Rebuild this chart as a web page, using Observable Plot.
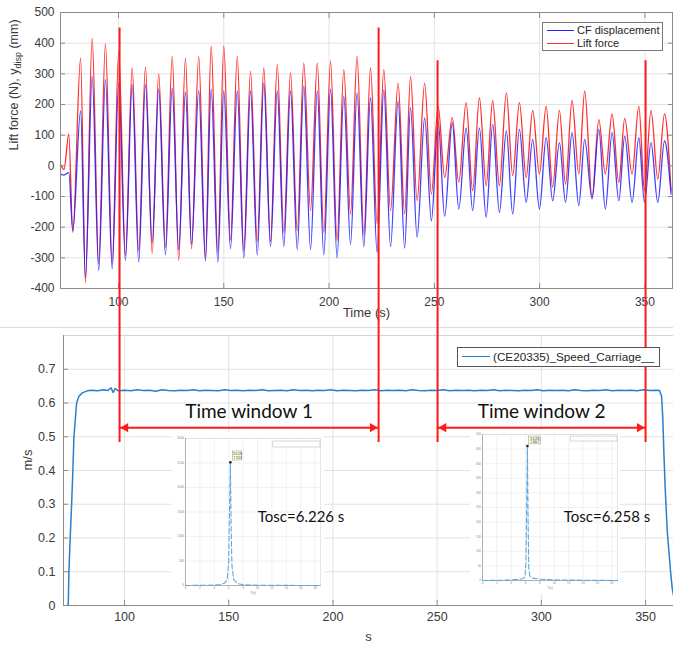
<!DOCTYPE html>
<html>
<head>
<meta charset="utf-8">
<script src="https://cdn.jsdelivr.net/npm/d3@7"></script>
<script src="https://cdn.jsdelivr.net/npm/@observablehq/plot@0.6"></script>
<style>
  html,body{margin:0;padding:0;background:#fff;}
  #wrap{position:relative;width:673px;height:646px;overflow:hidden;background:#fff;font-family:'Liberation Sans',Arial,sans-serif;}
  .legend{position:absolute;background:#fff;box-sizing:border-box;color:#262626;white-space:nowrap;}
  .legend .sw{position:absolute;height:0;}
  .legend .lb{position:absolute;}
  .sep{position:absolute;left:0;top:327px;width:673px;height:0;border-top:1px solid #dcdcdc;}
</style>
</head>
<body>
<div id="wrap"></div>
<script>
// ---------------- DATA ----------------
// Top panel: successive peaks / troughs (time in s)
const extremaTime = [72.5,74.1,76.4,78.3,82.0,84.3,87.5,90.6,93.8,97.0,100.1,103.3,106.5,109.6,112.8,116.0,119.1,122.3,125.5,128.6,131.8,134.7,138.1,141.3,144.0,147.2,150.0,153.2,156.4,159.5,162.7,165.9,169.0,172.2,175.4,178.5,181.7,184.9,188.0,191.2,194.4,197.5,200.7,203.8,207.0,210.2,213.3,216.5,219.7,222.8,226.0,229.2,232.8,235.9,238.7,241.8,245.4,248.6,251.8,254.9,258.5,261.6,265.1,268.2,271.4,274.6,277.7,280.9,284.2,287.2,290.4,293.6,296.7,299.9,303.1,306.2,309.4,312.3,315.4,318.6,321.4,324.9,328.1,331.2,334.4,337.6,340.4,343.9,347.1,349.8,352.9,356.1,359.3,362.4];
const liftForce = [5,-12,103,-217,351,-381,416,-318,398,-318,
  373,-292,319,-276,321,-285,300,-265,357,-308,
  351,-270,357,-300,390,-282,390,-243,357,-276,
  308,-247,319,-247,330,-217,303,-211,335,-146,
  335,-217,341,-243,314,-157,357,-225,319,-188,
  314,-146,270,-157,292,-114,270,-92,195,-38,
  157,-54,206,-81,222,-65,213,-65,238,-32,
  206,-38,181,-27,195,-70,181,-60,213,-27,
  244,-103,151,-27,169,-54,155,-27,195,-81,
  181,-43,169,-81];
const cfDisplacement = [-27,-30,-22,-212,179,-365,292,-341,281,-336,
  270,-308,265,-313,265,-250,250,-290,253,-273,
  240,-255,245,-310,250,-314,244,-270,244,-300,
  244,-290,270,-263,244,-263,244,-273,260,-273,
  244,-290,250,-300,227,-255,238,-263,222,-282,
  248,-263,211,-268,189,-233,156,-179,146,-165,
  141,-141,124,-146,124,-168,135,-152,114,-157,
  119,-119,86,-141,92,-114,76,-119,108,-130,
  86,-108,119,-141,108,-114,97,-119,92,-119,
  76,-119,81,-92];
const topSeriesNames = ["CF displacement", "Lift force"];
const topXTicks = [100,150,200,250,300,350];
const topYTicks = [-400,-300,-200,-100,0,100,200,300,400,500];
const topXLabel = "Time (s)";
const topYLabel = "Lift force (N), ydisp (mm)";

// Bottom panel: carriage speed
const speedTime = [72.5,73.0,73.3,73.9,74.6,75.2,75.7,77.0,78.1,79.7,82.1,
  84,87,90,92,93.5,94.5,95.5,97,
  100,103,106,109,112,115,118,121,124,127,130,133,136,139,142,145,148,151,154,157,
  160,163,166,169,172,175,178,181,184,187,190,193,196,199,202,205,208,211,214,217,
  220,223,226,229,232,235,238,241,244,247,250,253,256,259,262,265,268,271,274,277,
  280,283,286,289,292,295,298,301,304,307,310,313,316,319,322,325,328,331,334,337,
  340,343,346,349,352,355,
  356.7,357.7,358.3,358.8,359.4,360.4,362.0,362.8,363.4,364.5];
const speedValue = [0,0.005,0.1,0.2,0.3,0.4,0.5,0.6,0.62,0.63,0.636,
  0.638,0.636,0.639,0.637,0.645,0.631,0.643,0.636,
  0.638,0.636,0.639,0.637,0.638,0.635,0.639,0.637,0.636,0.638,
  0.637,0.639,0.636,0.638,0.637,0.636,0.639,0.637,0.638,0.636,
  0.638,0.637,0.639,0.636,0.637,0.638,0.636,0.639,0.637,0.638,
  0.636,0.638,0.637,0.639,0.636,0.638,0.637,0.636,0.638,0.637,
  0.639,0.636,0.638,0.637,0.638,0.636,0.639,0.637,0.636,0.638,
  0.637,0.639,0.636,0.638,0.637,0.638,0.636,0.638,0.637,0.639,
  0.636,0.638,0.637,0.636,0.638,0.637,0.639,0.636,0.638,0.637,
  0.638,0.636,0.639,0.637,0.636,0.638,0.637,0.639,0.636,0.638,
  0.637,0.638,0.636,0.639,0.637,0.638,
  0.637,0.62,0.55,0.45,0.35,0.22,0.1,0.05,0.03,0.01];
const speedName = "(CE20335)_Speed_Carriage__";
const botXTicks = [100,150,200,250,300,350];
const botYTicks = [0,0.1,0.2,0.3,0.4,0.5,0.6,0.7];
const botXLabel = "s";
const botYLabel = "m/s";

// Annotations (bottom-panel units)
const windowEdges = [97.6, 221.9, 250.2, 350.0];
const windowEdgeTop = [1.711, 1.711, 1.614, 1.614];
const windowEdgeBottom = 0.483;
const windowStart = [97.6, 250.2];
const windowEnd = [221.9, 350.0];
const windowNames = ["Time window 1", "Time window 2"];
const arrowLevel = 0.527;
const windowNameLevel = 0.574;
const oscNames = ["Tosc=6.226 s", "Tosc=6.258 s"];
const oscNameTime = [184.7, 331.5];
const oscNameLevel = 0.262;

// Insets: spectra vs period T(s)
const specXTicks = [0,2,4,6,8,10,12,14,16,18];
const spec1Period = [0,2,4,4.8,5.4,5.8,6.0,6.1,6.226,6.33,6.45,6.7,7.2,8,9,12,18.7];
const spec1Amp    = [0,3,8,20,45,120,500,1400,2513,1300,400,120,40,15,8,3,0];
const spec1YTicks = [0,500,1000,1500,2000,2500,3000];
const spec1Tip = ["X 6.226\nY 2513"];
const spec2Period = [0,3,4,5,5.6,5.9,6.05,6.15,6.258,6.35,6.45,6.6,7,8,10,14,18.8];
const spec2Amp    = [0,1,2,4,6,12,60,250,460.7,200,40,15,8,5,2,1,0];
const spec2YTicks = [0,50,100,150,200,250,300,350,400,450,500];
const spec2Tip = ["X 6.258\nY 460.7"];

// ---------------- STYLE ----------------
const font = "'Liberation Sans', Arial, Helvetica, sans-serif";
const tickColor = "#3a3a3a";
const frameColor = "#8c8c8c";
const gridColor = "#e2e2e2";
const liftColor = "#ff3030";
const dispColor = "#1f1fff";
const speedColor = "#2a7fcc";
const annoRed = "#ff1a1a";
const fmt = d => String(d);

const wrap = document.getElementById("wrap");

// ---------------- TOP PANEL ----------------
const lift = extremaTime.map((t, i) => ({t, v: liftForce[i]}));
const disp = extremaTime.map((t, i) => ({t, v: cfDisplacement[i]}));

const topPlot = Plot.plot({
  width: 673, height: 329,
  marginLeft: 60, marginRight: 1, marginTop: 12, marginBottom: 41,
  x: {domain: [72.46, 363.1]},
  y: {domain: [-400, 500]},
  style: {position: "absolute", left: "0px", top: "0px", overflow: "visible", background: "transparent", fontFamily: font, fontSize: "12px", color: tickColor},
  marks: [
    Plot.ruleX(topXTicks, {stroke: gridColor}),
    Plot.ruleY(topYTicks, {stroke: gridColor}),
    Plot.line(lift, {x: "t", y: "v", stroke: liftColor, strokeWidth: 1.3, curve: "monotone-x"}),
    Plot.line(disp, {x: "t", y: "v", stroke: dispColor, strokeWidth: 1.3, strokeOpacity: 0.85, curve: "monotone-x"}),
    Plot.frame({stroke: frameColor}),
    Plot.axisX(topXTicks, {anchor: "bottom", tickSize: 5, dy: -5, fill: "none", stroke: frameColor}),
    Plot.axisX(topXTicks, {anchor: "top", tickSize: 5, dy: 5, fill: "none", stroke: frameColor}),
    Plot.axisY(topYTicks, {anchor: "left", tickSize: 5, dx: 5, fill: "none", stroke: frameColor}),
    Plot.axisY(topYTicks, {anchor: "right", tickSize: 5, dx: -5, fill: "none", stroke: frameColor}),
    Plot.axisX(topXTicks, {anchor: "bottom", tickSize: 0, tickPadding: 9, tickFormat: fmt, label: null, fill: tickColor, fontSize: 12}),
    Plot.axisY(topYTicks, {anchor: "left", tickSize: 0, tickPadding: 6, tickFormat: fmt, label: null, fill: tickColor, fontSize: 12}),
    Plot.text([topXLabel], {frameAnchor: "bottom", dy: 28, fontSize: 13, fill: tickColor}),
    Plot.text([topYLabel], {frameAnchor: "left", dx: -47, rotate: -90, fontSize: 12.5, fill: tickColor})
  ]
});
wrap.appendChild(topPlot);
// subscript "disp"
d3.select(topPlot).selectAll("text").filter(function () { return this.textContent === topYLabel; }).each(function () {
  const t = d3.select(this);
  t.text(null);
  t.append("tspan").text("Lift force (N), y");
  t.append("tspan").attr("dy", 3).attr("font-size", "9px").text("disp");
  t.append("tspan").attr("dy", -3).text(" (mm)");
});

const sep = document.createElement("div");
sep.className = "sep";
wrap.appendChild(sep);

// ---------------- BOTTOM PANEL ----------------
const speed = speedTime.map((t, i) => ({t, v: speedValue[i]}));
const botDims = {width: 673, height: 316, marginLeft: 63, marginRight: 0, marginTop: 5, marginBottom: 41};
const botDomainX = [70.7, 363.4];
const botDomainY = [0, 0.8];

const botPlot = Plot.plot({
  ...botDims, x: {domain: botDomainX}, y: {domain: botDomainY},
  style: {position: "absolute", left: "0px", top: "330px", overflow: "visible", background: "transparent", fontFamily: font, fontSize: "12px", color: tickColor},
  marks: [
    Plot.ruleX(botXTicks, {stroke: gridColor}),
    Plot.ruleY(botYTicks, {stroke: gridColor}),
    Plot.frame({anchor: "top", stroke: "#d4d4d4"}),
    Plot.line(speed, {x: "t", y: "v", stroke: speedColor, strokeWidth: 1.5, clip: true}),
    Plot.frame({anchor: "left", stroke: frameColor}),
    Plot.frame({anchor: "bottom", stroke: frameColor}),
    Plot.axisX(botXTicks, {anchor: "bottom", tickSize: 5, dy: -5, fill: "none", stroke: frameColor}),
    Plot.axisY(botYTicks, {anchor: "left", tickSize: 5, dx: 5, fill: "none", stroke: frameColor}),
    Plot.axisX(botXTicks, {anchor: "bottom", tickSize: 0, tickPadding: 7, tickFormat: fmt, label: null, fill: tickColor, fontSize: 12.5}),
    Plot.axisY(botYTicks, {anchor: "left", tickSize: 0, tickPadding: 8, tickFormat: fmt, label: null, fill: tickColor, fontSize: 12.5}),
    Plot.text([botXLabel], {frameAnchor: "bottom", dy: 35, fontSize: 13, fill: tickColor}),
    Plot.text([botYLabel], {frameAnchor: "left", dx: -36, rotate: -90, fontSize: 13, fill: tickColor})
  ]
});
wrap.appendChild(botPlot);

// ---------------- INSETS ----------------
function spectrumInset(o) {
  const data = o.period.map((T, i) => ({T, A: o.amp[i]}));
  const peakIdx = o.amp.indexOf(d3.max(o.amp));
  const peak = {T: o.period[peakIdx], A: o.amp[peakIdx]};
  return Plot.plot({
    width: o.w, height: o.h, marginLeft: o.ml, marginRight: o.mr, marginTop: o.mt, marginBottom: o.mb,
    x: {domain: [0, o.xMax]}, y: {domain: [0, o.yMax]},
    style: {position: "absolute", left: o.left + "px", top: o.top + "px", background: "#fff", overflow: "visible", fontFamily: font, fontSize: "3px", color: "#777"},
    marks: [
      Plot.ruleX(specXTicks, {stroke: "#e8e8e8", strokeWidth: 0.6}),
      Plot.ruleY(o.yTicks, {stroke: "#e8e8e8", strokeWidth: 0.6}),
      Plot.frame({stroke: "#d6d6d6", strokeWidth: 0.6}),
      Plot.frame({anchor: "left", stroke: "#9a9a9a", strokeWidth: 0.7}),
      Plot.frame({anchor: "bottom", stroke: "#9a9a9a", strokeWidth: 0.7}),
      Plot.axisX(specXTicks, {anchor: "bottom", tickSize: 0, tickPadding: 1.5, tickFormat: fmt, label: null, fill: "#888", fontSize: 3}),
      Plot.axisY(o.yTicks, {anchor: "left", tickSize: 0, tickPadding: 1.5, tickFormat: fmt, label: null, fill: "#888", fontSize: 3}),
      Plot.text(["T(s)"], {frameAnchor: "bottom", dy: 8, fontSize: 3.2, fill: "#888"}),
      Plot.rect([o.legendBox], {x1: "x1", x2: "x2", y1: "y1", y2: "y2", fill: "#fff", stroke: "#b0b0b0", strokeWidth: 0.5}),
      Plot.line(data, {x: "T", y: "A", stroke: "#5ea9e0", strokeWidth: 1.1, strokeDasharray: "5,2.5"}),
      Plot.rect([o.tipBox], {x1: "x1", x2: "x2", y1: "y1", y2: "y2", fill: "#ffffe1", stroke: "#555", strokeWidth: 0.3}),
      Plot.text(o.tip, {x: (o.tipBox.x1 + o.tipBox.x2) / 2, y: (o.tipBox.y1 + o.tipBox.y2) / 2, fontSize: 2.7, fill: "#222", lineHeight: 1.15}),
      Plot.dot([peak], {x: "T", y: "A", r: 1.3, fill: "#222", stroke: null})
    ]
  });
}
wrap.appendChild(spectrumInset({
  period: spec1Period, amp: spec1Amp, yTicks: spec1YTicks, tip: spec1Tip,
  xMax: 18.75, yMax: 3000,
  tipBox: {x1: 6.6, x2: 7.9, y1: 2551, y2: 2735},
  legendBox: {x1: 12.2, x2: 18.75, y1: 2816, y2: 2939},
  left: 172, top: 432, w: 152, h: 166, ml: 13, mr: 4, mt: 6, mb: 13
}));
wrap.appendChild(spectrumInset({
  period: spec2Period, amp: spec2Amp, yTicks: spec2YTicks, tip: spec2Tip,
  xMax: 18.8, yMax: 500,
  tipBox: {x1: 6.5, x2: 8.1, y1: 466, y2: 493},
  legendBox: {x1: 12.3, x2: 18.8, y1: 476, y2: 493},
  left: 470, top: 430, w: 150, h: 164, ml: 12, mr: 3, mt: 4, mb: 14
}));

// ---------------- ANNOTATION LAYER (same scales as bottom panel) ----------------
const edges = windowEdges.map((t, i) => ({t, top: windowEdgeTop[i]}));
const windows = windowStart.map((s, i) => ({start: s, end: windowEnd[i], mid: (s + windowEnd[i]) / 2, name: windowNames[i]}));
const annoPlot = Plot.plot({
  ...botDims,
  x: {domain: botDomainX, axis: null},
  y: {domain: botDomainY, axis: null},
  style: {position: "absolute", left: "0px", top: "330px", overflow: "visible", background: "transparent", fontFamily: font},
  marks: [
    Plot.ruleX(edges, {x: "t", y1: "top", y2: windowEdgeBottom, stroke: annoRed, strokeWidth: 2}),
    Plot.ruleY(windows, {y: arrowLevel, x1: "start", x2: "end", stroke: annoRed, strokeWidth: 2}),
    Plot.dot(windows, {x: "start", y: arrowLevel, symbol: "triangle", rotate: -90, r: 3.4, fill: annoRed, stroke: null, dx: 6}),
    Plot.dot(windows, {x: "end", y: arrowLevel, symbol: "triangle", rotate: 90, r: 3.4, fill: annoRed, stroke: null, dx: -6}),
    Plot.text(windows, {x: "mid", y: windowNameLevel, text: "name", fontFamily: "Lato, 'Open Sans', sans-serif", fontSize: 19, fill: "#111"}),
    Plot.text(oscNames, {x: oscNameTime, y: oscNameLevel, fontFamily: "Lato, 'Open Sans', sans-serif", fontSize: 15, fill: "#111"})
  ]
});
wrap.appendChild(annoPlot);

// ---------------- LEGENDS ----------------
function addLegend(box, entries, fontSize, border) {
  const div = document.createElement("div");
  div.className = "legend";
  Object.assign(div.style, {left: box.left + "px", top: box.top + "px", width: box.w + "px", height: box.h + "px", border: "1px solid " + border, fontSize: fontSize + "px", fontFamily: font});
  entries.forEach((e, i) => {
    const cy = box.rows[i];
    const sw = document.createElement("div");
    sw.className = "sw";
    Object.assign(sw.style, {left: box.swX + "px", width: box.swW + "px", top: (cy - 1) + "px", borderTop: "1.2px solid " + e.color});
    const lb = document.createElement("div");
    lb.className = "lb";
    lb.textContent = e.label;
    Object.assign(lb.style, {left: box.txX + "px", top: (cy - fontSize * 0.6) + "px", lineHeight: (fontSize * 1.15) + "px"});
    div.appendChild(sw);
    div.appendChild(lb);
  });
  wrap.appendChild(div);
}
addLegend({left: 542, top: 22, w: 121, h: 29, rows: [7.5, 20.5], swX: 4, swW: 27, txX: 34},
  [{label: topSeriesNames[0], color: dispColor}, {label: topSeriesNames[1], color: liftColor}], 11, "#7a7a7a");
addLegend({left: 457, top: 347, w: 203, h: 20, rows: [9], swX: 4, swW: 28, txX: 35},
  [{label: speedName, color: speedColor}], 11.7, "#555");
</script>
</body>
</html>
